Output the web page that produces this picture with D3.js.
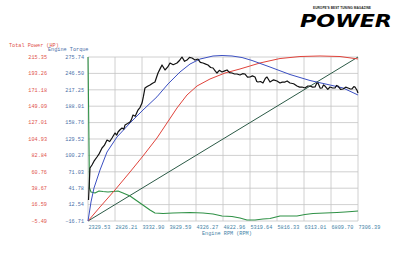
<!DOCTYPE html>
<html>
<head>
<meta charset="utf-8">
<script src="https://cdn.jsdelivr.net/npm/d3@7"></script>
<style>
  body { margin: 0; background: #fff; }
  svg text { font-family: "Liberation Mono", "DejaVu Sans Mono", monospace; }
</style>
</head>
<body>
<script>
// x axis labels (rpm), evenly spaced grid
const rpmLabels = ["2329.53","2826.21","3332.90","3829.59","4326.27","4822.96","5319.64","5816.33","6313.01","6809.70","7306.39"];
const torqueTicks = [275.74,246.50,217.25,188.01,158.76,129.52,100.27,71.03,41.78,12.54,-16.71];
const powerTicks = [215.35,193.26,171.18,149.09,127.01,104.93,82.84,60.76,38.67,16.59,-5.49];

// black trace (torque axis)
const blackRpm = [2339,2366,2403,2440,2495,2540,2588,2630,2680,2730,2772,2827,2860,2883,2920,2956,2990,3012,3060,3104,3130,3159,3200,3251,3290,3325,3350,3380,3420,3472,3520,3564,3620,3660,3694,3749,3800,3841,3900,3970,4020,4062,4110,4154,4200,4247,4302,4357,4400,4449,4500,4541,4590,4634,4680,4707,4750,4800,4850,4892,4940,4984,5030,5076,5131,5180,5224,5270,5316,5360,5408,5440,5463,5510,5555,5600,5629,5684,5750,5813,5869,5910,5961,6000,6053,6120,6182,6230,6274,6329,6380,6422,6470,6514,6545,6569,6610,6643,6670,6698,6750,6790,6840,6883,6910,6938,6985,7030,7080,7122,7160,7196,7230,7251,7290,7306];
const blackVal = [20.7,77.8,83.2,90.0,97.4,104.0,113.5,118.0,127.7,125.0,131.3,140.2,136.5,142.0,146.0,149.1,147.0,154.5,157.0,159.8,164.0,172.3,170.0,181.2,186.0,193.7,205.0,220.5,223.0,225.8,229.0,231.1,247.2,255.0,261.5,252.6,258.0,265.0,262.0,265.0,270.0,275.7,268.0,270.3,275.0,273.9,270.3,272.1,266.0,265.0,263.0,261.5,257.0,256.1,250.0,247.2,252.0,249.0,251.0,252.6,248.0,247.2,245.4,245.4,243.6,246.0,245.4,240.0,240.1,242.0,240.1,232.0,231.1,232.0,229.4,238.0,240.1,231.1,235.0,233.0,229.4,231.0,231.1,233.0,229.4,228.0,224.0,222.0,222.2,220.5,224.0,224.0,222.0,222.2,229.0,229.4,220.0,220.5,226.0,224.0,218.0,222.2,220.5,220.5,225.0,224.0,218.0,218.7,222.0,220.5,219.0,218.7,223.0,222.2,216.0,211.5];

// blue trace (engine torque)
const blueRpm = [2330,2385,2440,2551,2680,2864,3104,3343,3601,3804,4025,4210,4394,4634,4800,4984,5169,5353,5684,6053,6422,6790,7030,7306];
const blueVal = [-16.7,17.2,42.1,74.2,106.3,133.1,158.1,181.2,204.7,227.6,249.0,263.2,272.1,277.5,278.4,277.5,274.8,269.5,257.9,244.5,233.8,225.8,220.5,208.0];

// red trace (total power, HP axis)
const redRpm = [2330,2551,2827,3104,3343,3601,3786,3970,4154,4339,4578,4855,5131,5500,5869,6237,6606,6975,7306];
const redVal = [-5.5,13.4,36.3,60.5,82.0,106.3,126.5,146.7,164.2,176.3,185.7,193.8,199.2,207.3,213.3,216.0,216.7,216.0,212.7];

// green trace (torque axis)
const greenRpm = [2330,2357,2385,2459,2532,2606,2698,2790,2883,2975,3104,3288,3472,3564,3712,3896,4210,4449,4634,4800,4984,5131,5260,5408,5555,5684,5869,6053,6182,6329,6477,6698,6919,7067,7196,7306];
const greenVal = [275.7,42.1,35.0,33.2,36.8,35.9,35.0,35.9,36.8,33.2,27.9,15.4,2.9,-2.4,-3.3,-2.4,-1.5,-2.4,-4.2,-7.8,-8.7,-11.4,-14.9,-14.9,-13.1,-12.3,-7.8,-7.8,-7.8,-5.1,-3.3,-2.4,-1.5,-0.7,0.2,1.1];

// straight reference line
const lineRpm = [2329.53,7306.39];
const lineVal = [-16.71,275.74];

const w = 400, h = 266;
const svg = d3.select("body").append("svg").attr("width", w).attr("height", h);

const x = d3.scaleLinear().domain([2329.53, 7306.39]).range([88, 358]);
const yT = d3.scaleLinear().domain([-16.71, 275.74]).range([221, 57]);
const yP = d3.scaleLinear().domain([-5.49, 215.35]).range([221, 57]);

// grid
const xTickVals = d3.range(11).map(i => 2329.53 + i * (7306.39 - 2329.53) / 10);
svg.append("g").selectAll("line.v").data(xTickVals).enter().append("line")
  .attr("x1", d => x(d)).attr("x2", d => x(d))
  .attr("y1", 57).attr("y2", 221)
  .attr("stroke", "#c4c4c4").attr("stroke-width", 0.8);
svg.append("g").selectAll("line.h").data(torqueTicks).enter().append("line")
  .attr("x1", 88).attr("x2", 358)
  .attr("y1", d => yT(d)).attr("y2", d => yT(d))
  .attr("stroke", "#c4c4c4").attr("stroke-width", 0.8);

// axes labels
svg.append("g").selectAll("text").data(xTickVals).enter().append("text")
  .attr("x", d => x(d) + 0.5).attr("y", 229)
  .attr("font-size", 5.2).attr("fill", "#3f7fa6")
  .text((d, i) => rpmLabels[i]);
svg.append("text").attr("x", 202).attr("y", 235).attr("font-size", 5.2).attr("fill", "#3f7fa6")
  .text("Engine RPM (RPM)");

svg.append("g").selectAll("text").data(torqueTicks).enter().append("text")
  .attr("x", 84).attr("y", d => yT(d) + 1.8).attr("text-anchor", "end")
  .attr("font-size", 5.2).attr("fill", "#4a6ea8")
  .text(d => d3.format(".2f")(d));
svg.append("g").selectAll("text").data(powerTicks).enter().append("text")
  .attr("x", 47).attr("y", d => yP(d) + 1.8).attr("text-anchor", "end")
  .attr("font-size", 5.2).attr("fill", "#e0524a")
  .text(d => d3.format(".2f")(d));

svg.append("text").attr("x", 9).attr("y", 46.5).attr("font-size", 5.2).attr("fill", "#e0524a")
  .text("Total Power (HP)");
svg.append("text").attr("x", 48).attr("y", 51).attr("font-size", 5.2).attr("fill", "#4a6ea8")
  .text("Engine Torque");

// lines
function draw(xs, ys, yScale, color, sw) {
  const pts = xs.map((v, i) => [v, ys[i]]);
  svg.append("path").datum(pts)
    .attr("fill", "none").attr("stroke", color).attr("stroke-width", sw)
    .attr("stroke-linejoin", "round")
    .attr("d", d3.line().x(d => x(d[0])).y(d => yScale(d[1])));
}
draw(lineRpm, lineVal, yT, "#2b5a46", 1);
draw(greenRpm, greenVal, yT, "#2f9146", 1.1);
draw(redRpm, redVal, yP, "#e0433b", 1);
draw(blueRpm, blueVal, yT, "#3b4fc2", 1);
draw(blackRpm, blackVal, yT, "#111", 1.2);

// logo
svg.append("text").attr("x", 313).attr("y", 8.5)
  .attr("font-size", 3.2).attr("font-weight", "bold")
  .style("font-family", "Liberation Sans, sans-serif").attr("fill", "#222")
  .attr("textLength", 58).text("EUROPE'S BEST TUNING MAGAZINE");
svg.append("text").attr("x", 300).attr("y", 27)
  .attr("font-size", 18).attr("font-weight", "900").attr("font-style", "italic")
  .style("font-family", "DejaVu Sans, sans-serif").attr("fill", "#000")
  .attr("textLength", 92).attr("lengthAdjust", "spacingAndGlyphs")
  .text("POWER");
</script>
</body>
</html>
